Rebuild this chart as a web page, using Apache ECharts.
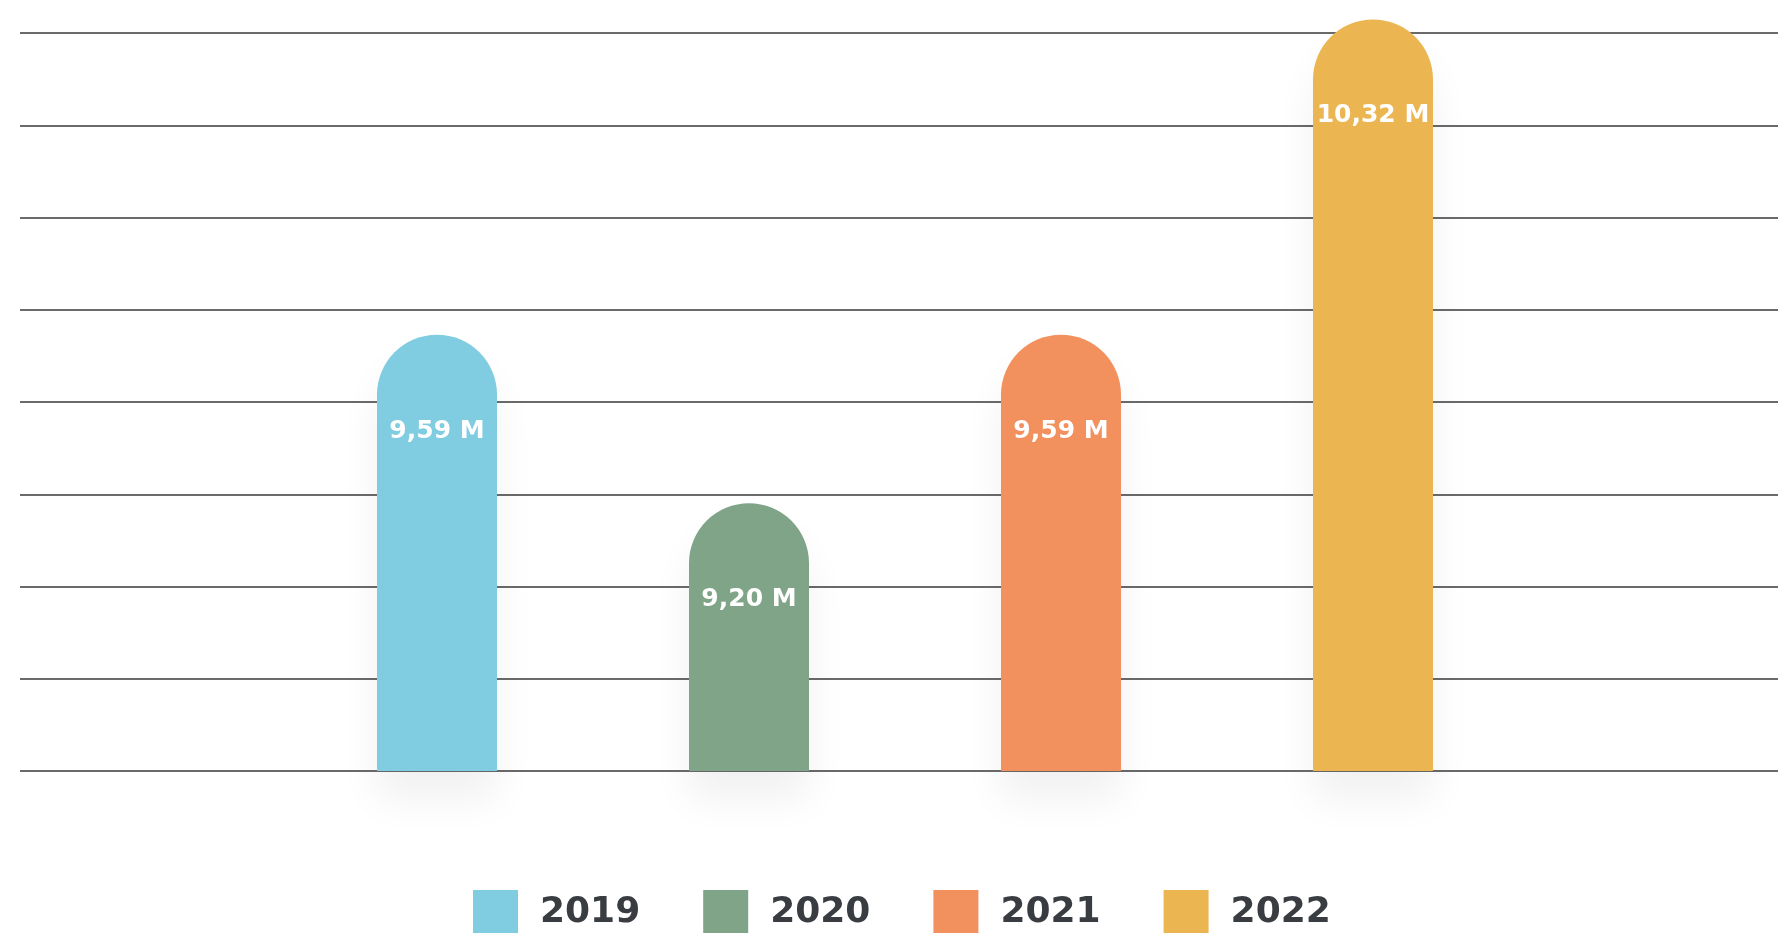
<!DOCTYPE html>
<html>
<head>
<meta charset="utf-8">
<title>2019–2022</title>
<script src="https://cdn.jsdelivr.net/npm/echarts@6/dist/echarts.min.js"></script>
<style>
  html, body { margin: 0; padding: 0; background: #ffffff; }
  #chart { width: 1778px; height: 933px; }
</style>
</head>
<body>
<div id="chart"></div>
<script>
// Yearly totals, in millions
const years = ['2019', '2020', '2021', '2022'];
const totals = [9.59, 9.20, 9.59, 10.32];
const barColors = ['#80CCE0', '#7FA487', '#F2905E', '#EBB652'];

// Decorative guide lines behind the bars
const guideSteps = 8;

const chart = echarts.init(document.getElementById('chart'), null, { renderer: 'canvas' });

const fmt = v => v.toFixed(2).replace('.', ',') + ' M';

const series = years.map((y, i) => ({
  name: y,
  type: 'bar',
  xAxisIndex: 1,
  yAxisIndex: 1,
  barWidth: 120,
  barGap: '-100%',
  data: years.map((_, j) => (j === i ? totals[i] : '-')),
  itemStyle: {
    color: barColors[i],
    borderRadius: [60, 60, 0, 0],
    shadowColor: 'rgba(0,0,0,0.06)',
    shadowBlur: 40,
    shadowOffsetY: 28
  },
  label: {
    show: true,
    position: 'insideTop',
    distance: 84,
    formatter: p => fmt(p.value),
    color: '#ffffff',
    fontFamily: 'DejaVu Sans',
    fontWeight: 'bold',
    fontSize: 25
  },
  z: 3
}));

chart.setOption({
  backgroundColor: '#ffffff',
  animation: false,
  legend: {
    data: years,
    left: 473,
    top: 890,
    padding: 0,
    itemWidth: 45,
    itemHeight: 46,
    itemGap: 63,
    icon: 'rect',
    textStyle: {
      color: '#393d42',
      fontFamily: 'DejaVu Sans',
      fontWeight: 'bold',
      fontSize: 36,
      padding: [0, 0, 16, 17]
    }
  },
  grid: [
    { left: 20, right: 0, top: 33, bottom: 162 },
    { left: 281, right: 249, top: 0, bottom: 162 }
  ],
  xAxis: [
    { gridIndex: 0, type: 'value', show: false, min: 0, max: 1 },
    {
      gridIndex: 1, type: 'category', data: years,
      axisLine: { show: false }, axisTick: { show: false }, axisLabel: { show: false }
    }
  ],
  yAxis: [
    {
      gridIndex: 0, type: 'value', min: 0, max: guideSteps, interval: 1,
      axisLine: { show: false }, axisTick: { show: false }, axisLabel: { show: false },
      splitLine: { show: true, lineStyle: { color: '#6a6a6a', width: 2 } }
    },
    {
      gridIndex: 1, type: 'value', min: 8.58, max: 10.365,
      axisLine: { show: false }, axisTick: { show: false }, axisLabel: { show: false },
      splitLine: { show: false }
    }
  ],
  series: series
});
</script>
</body>
</html>
